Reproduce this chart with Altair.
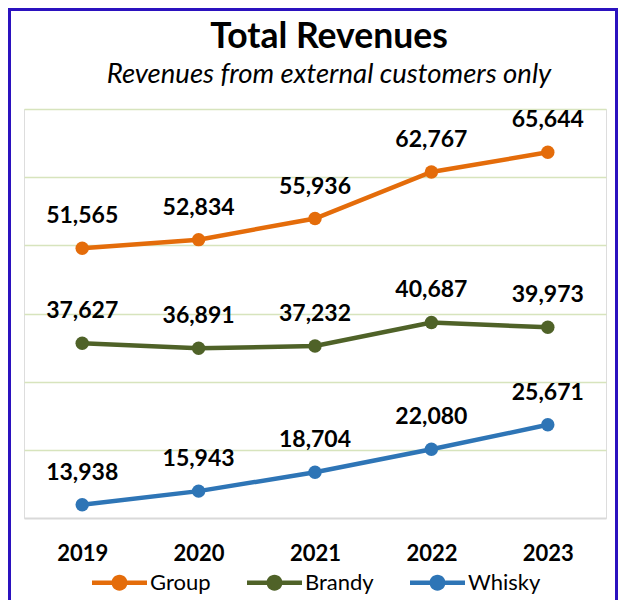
import altair as alt
import pandas as pd

years = ["2019", "2020", "2021", "2022", "2023"]
group = [51565, 52834, 55936, 62767, 65644]
brandy = [37627, 36891, 37232, 40687, 39973]
whisky = [13938, 15943, 18704, 22080, 25671]
series = ["Group", "Brandy", "Whisky"]
colors = ["#E46C0A", "#4F6228", "#2E75B6"]
grid_values = [22000, 32000, 42000, 52000, 62000, 72000]

rows = []
for name, vals in zip(series, [group, brandy, whisky]):
    for yr, v in zip(years, vals):
        rows.append({"Year": yr, "Series": name, "Revenue": v})
df = pd.DataFrame(rows)

W, H = 582, 409
FONT = "Lato"

sym_path = ("M-1,-0.08L1,-0.08L1,0.08L-1,0.08Z "
            "M0.29,0A0.29,0.29 0 1,1 -0.29,0A0.29,0.29 0 1,1 0.29,0Z")

x = alt.X("Year:O", scale=alt.Scale(type="point", padding=0.5),
          axis=alt.Axis(title=None, labelAngle=0, labelFont=FONT, labelFontWeight="bold",
                        labelFontSize=22, labelColor="#000000", ticks=False,
                        domainColor="#D9D9D9", domainWidth=2, labelPadding=25, grid=False))
y = alt.Y("Revenue:Q", scale=alt.Scale(domain=[12000, 72000], nice=False, zero=False),
          axis=alt.Axis(title=None, labels=False, ticks=False, domain=False,
                        values=grid_values, gridColor="#D7E4BD", gridWidth=1.5))
legend = alt.Legend(title=None, orient="none", legendX=68, legendY=446, direction="horizontal",
                    symbolType=sym_path, symbolSize=3025, symbolStrokeWidth=0, symbolOpacity=1,
                    labelFont=FONT, labelFontSize=22, labelColor="#000000", labelOffset=3,
                    columnPadding=36, gridAlign="each", padding=0)
color = alt.Color("Series:N", scale=alt.Scale(domain=series, range=colors), legend=legend)

base = alt.Chart(df).encode(x=x, y=y, color=color, detail="Series:N")

lines = base.mark_line(strokeWidth=4.5)
points = base.mark_point(filled=True, size=180, opacity=1, strokeWidth=0)
labels = alt.Chart(df).mark_text(dy=-25, font=FONT, fontWeight="bold", fontSize=23,
                                 color="#000000", baseline="alphabetic").encode(
    x=x, y=y, text=alt.Text("Revenue:Q", format=","))

border = alt.Chart(pd.DataFrame({"a": [0]})).mark_rect(
    fillOpacity=0, stroke="#2B12BF", strokeWidth=3).encode(
    x=alt.value(-14.5), x2=alt.value(592.5), y=alt.value(-99.5), y2=alt.value(600))

chart = alt.layer(lines, points, labels, border).properties(
    width=W, height=H,
    title=alt.TitleParams(text="Total Revenues",
                          subtitle="Revenues from external customers only",
                          font=FONT, fontSize=35.5, fontWeight="bold", color="#000000",
                          subtitleFont=FONT, subtitleFontSize=27.5, subtitleFontStyle="italic",
                          subtitleColor="#000000", anchor="middle", dx=14, offset=-80,
                          subtitlePadding=5),
    autosize=alt.AutoSizeParams(type="none"),
    padding={"left": 16, "top": 101, "right": 12, "bottom": 82},
).configure_view(strokeWidth=0).configure(background="white")

chart.save("out.html", embed_options={"renderer": "svg", "actions": False})
